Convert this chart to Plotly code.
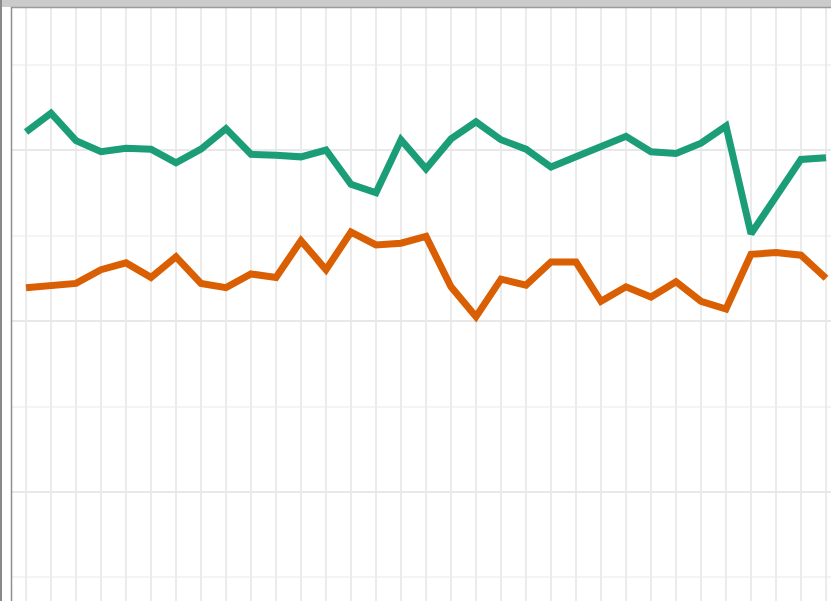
import plotly.graph_objects as go

periods = list(range(33))
green_values = [62.1, 64.3, 61.1, 59.8, 60.2, 60.1, 58.5, 60.1, 62.5, 59.5, 59.4, 59.2, 60.0,
                56.0, 55.0, 61.2, 57.8, 61.3, 63.3, 61.2, 60.1, 58.0, 59.2, 60.4, 61.6, 59.8,
                59.6, 60.8, 62.8, 50.2, 54.6, 58.9, 59.1]
orange_values = [43.9, 44.2, 44.4, 46.0, 46.8, 45.1, 47.5, 44.4, 43.9, 45.5, 45.1, 49.4, 46.0,
                 50.4, 48.9, 49.1, 49.9, 44.0, 40.5, 44.9, 44.2, 46.9, 46.9, 42.3, 44.0, 42.8,
                 44.6, 42.3, 41.4, 47.8, 48.0, 47.7, 45.0]

W, H = 831, 601
fig = go.Figure()
fig.add_trace(go.Scatter(x=periods, y=green_values, mode="lines",
                         line=dict(color="#1b9e77", width=7), showlegend=False))
fig.add_trace(go.Scatter(x=periods, y=orange_values, mode="lines",
                         line=dict(color="#d95f02", width=7), showlegend=False))

fig.update_layout(
    width=W, height=H,
    margin=dict(l=0, r=0, t=0, b=0, pad=0),
    paper_bgcolor="white", plot_bgcolor="white",
    xaxis=dict(domain=[12 / W, 1], range=[-0.56, 32.2], dtick=1, tick0=0,
               showgrid=True, gridcolor="#ebebeb", gridwidth=1.5,
               showticklabels=False, zeroline=False, showline=False, ticks=""),
    yaxis=dict(domain=[0, 1 - 8 / H], range=[7.25, 76.61], dtick=20, tick0=0,
               showgrid=True, gridcolor="#e8e8e8", gridwidth=1.5,
               minor=dict(dtick=10, tick0=0, showgrid=True, gridcolor="#f4f4f4", gridwidth=1.5),
               showticklabels=False, zeroline=False, showline=False, ticks=""),
    shapes=[
        dict(type="rect", xref="paper", yref="paper", x0=0, x1=1, y0=1 - 7 / H, y1=1,
             fillcolor="#cbcbcb", line=dict(width=0), layer="above"),
        dict(type="line", xref="paper", yref="paper", x0=11 / W, x1=1, y0=1 - 7.5 / H, y1=1 - 7.5 / H,
             line=dict(color="#9a9a9a", width=1.5), layer="above"),
        dict(type="rect", xref="paper", yref="paper", x0=0, x1=2 / W, y0=0, y1=1,
             fillcolor="#8a8a8a", line=dict(width=0), layer="above"),
        dict(type="line", xref="paper", yref="paper", x0=11.5 / W, x1=11.5 / W, y0=0, y1=1 - 7 / H,
             line=dict(color="#8f8f8f", width=1.5), layer="above"),
    ],
)

fig.write_html(
    "out.html",
    config={"displayModeBar": False},
    post_script="document.body.style.margin='0';document.body.style.overflow='hidden';"
                "document.documentElement.style.overflow='hidden';",
)
